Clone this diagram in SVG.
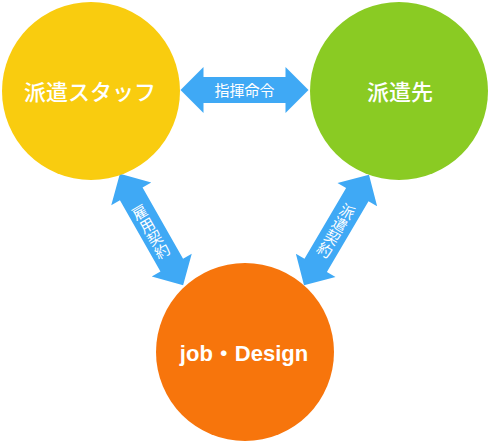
<svg xmlns="http://www.w3.org/2000/svg" width="490" height="443" viewBox="0 0 490 443">
  <style>
    .jp { font-family: "Noto Sans CJK JP", "Liberation Sans", sans-serif; fill: #ffffff; text-anchor: middle; }
    .node { font-size: 22px; font-weight: 500; }
    .lbl { font-size: 15px; }
    .en { font-family: "Liberation Sans", "Noto Sans CJK JP", sans-serif; font-weight: bold; font-size: 22px; fill: #ffffff; text-anchor: middle; }
    .arrow { fill: #3FA9F5; }
  </style>
  <defs>
    <polygon id="dbl" points="-64,0 -41,-23 -41,-13 41,-13 41,-23 64,0 41,23 41,13 -41,13 -41,23"/>
  </defs>
  <g id="connectors">
    <g id="arrow-top">
      <use href="#dbl" class="arrow" transform="translate(244.5,90)"/>
      <text class="jp lbl" x="244.5" y="95.5">指揮命令</text>
    </g>
    <g id="arrow-left">
      <use href="#dbl" class="arrow" transform="translate(151.5,229.5) rotate(60.4)"/>
      <g transform="translate(150.5,231) rotate(-30)">
        <text class="jp lbl" x="0" y="-22.5" dominant-baseline="central">雇</text>
        <text class="jp lbl" x="0" y="-7.5" dominant-baseline="central">用</text>
        <text class="jp lbl" x="0" y="7.5" dominant-baseline="central">契</text>
        <text class="jp lbl" x="0" y="22.5" dominant-baseline="central">約</text>
      </g>
    </g>
    <g id="arrow-right">
      <use href="#dbl" class="arrow" transform="translate(336.5,230) rotate(120.5)"/>
      <g transform="translate(336.5,230) rotate(30)">
        <text class="jp lbl" x="0" y="-22.5" dominant-baseline="central">派</text>
        <text class="jp lbl" x="0" y="-7.5" dominant-baseline="central">遣</text>
        <text class="jp lbl" x="0" y="7.5" dominant-baseline="central">契</text>
        <text class="jp lbl" x="0" y="22.5" dominant-baseline="central">約</text>
      </g>
    </g>
  </g>
  <g id="node-staff">
    <circle cx="91" cy="91" r="89" fill="#F9CC0F"/>
    <text class="jp node" x="90" y="100">派遣スタッフ</text>
  </g>
  <g id="node-client">
    <circle cx="399" cy="91" r="89" fill="#8ACB23"/>
    <text class="jp node" x="400" y="100">派遣先</text>
  </g>
  <g id="node-job">
    <circle cx="245" cy="352" r="89" fill="#F7750C"/>
    <text class="en" x="244" y="361">job・Design</text>
  </g>
</svg>
